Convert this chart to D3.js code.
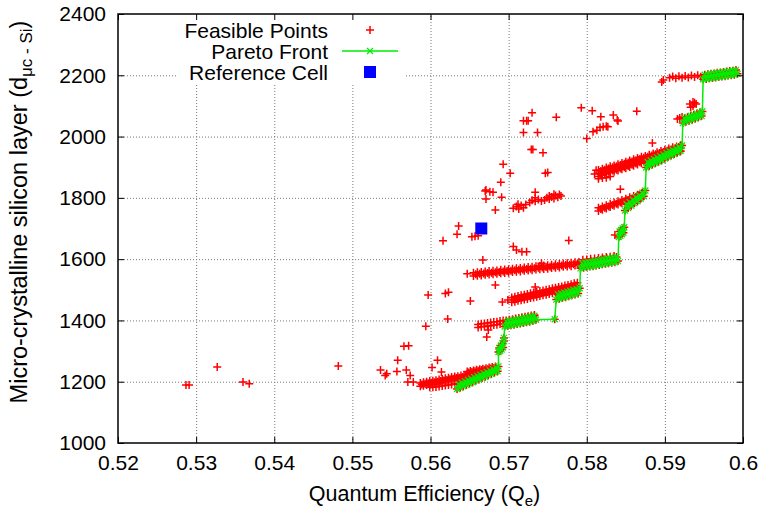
<!DOCTYPE html>
<html><head><meta charset="utf-8">
<script src="https://cdn.jsdelivr.net/npm/d3@7"></script>
<style>
body{margin:0;background:#fff;}
svg{display:block;font-family:"Liberation Sans",Arial,Helvetica,sans-serif;}
</style></head><body>
<svg id="chart" width="763" height="512"></svg>
<script>
// ---------------- DATA ----------------
const xTicks = [0.52,0.53,0.54,0.55,0.56,0.57,0.58,0.59,0.60];
const xTickLabels = ["0.52","0.53","0.54","0.55","0.56","0.57","0.58","0.59","0.6"];
const yTicks = [1000,1200,1400,1600,1800,2000,2200,2400];
const yTickLabels = ["1000","1200","1400","1600","1800","2000","2200","2400"];
const legendLabels = ["Feasible Points","Pareto Front","Reference Cell"];

// Feasible points (Qe, thickness), grouped by region
const feasibleScattered = [
[0.5287,1189],[0.5291,1189],[0.5327,1248],[0.5360,1199],[0.5368,1193],[0.5482,1251],
[0.5536,1238],[0.5544,1226],[0.5542,1220],[0.5557,1233],[0.5558,1270],[0.5569,1238],[0.5574,1220],
[0.5566,1316],[0.5572,1317],[0.5594,1381],[0.5597,1483],[0.5619,1488],[0.5623,1492],[0.5651,1463],
[0.5622,1405],[0.5609,1270],[0.5602,1246],[0.5614,1232],[0.5571,1199],[0.5578,1199]
];
const feasibleBandA = [
[0.5587,1196],[0.5591,1198],[0.5595,1200],[0.5599,1202],[0.5603,1203],[0.5607,1205],[0.5611,1207],[0.5615,1209],
[0.5619,1211],[0.5623,1213],[0.5627,1215],[0.5631,1217],[0.5635,1218],[0.5639,1220],[0.5643,1222],[0.5647,1224],
[0.5651,1226],[0.5655,1228],[0.5659,1230],[0.5663,1232],[0.5667,1233],[0.5671,1235],[0.5675,1237],[0.5679,1239],[0.5683,1241],
[0.5587,1185],[0.5591,1187],[0.5595,1189],[0.5599,1191],[0.5603,1192],[0.5607,1194],[0.5611,1196],[0.5615,1198],
[0.5619,1200],[0.5623,1202],[0.5627,1204],[0.5631,1206],[0.5635,1207],[0.5639,1209],[0.5643,1211],[0.5647,1213],
[0.5651,1215],[0.5655,1217],
[0.5599,1182],[0.5603,1182],[0.5607,1183],[0.5611,1184],[0.5615,1186],[0.5619,1188],[0.5623,1189],[0.5627,1191],[0.5631,1193],
[0.5647,1233],[0.5651,1235],[0.5655,1237],[0.5659,1239],[0.5663,1241],[0.5667,1242],[0.5671,1244],[0.5675,1246],
[0.5679,1248],[0.5683,1250],
[0.5589,1191],[0.5593,1193],[0.5597,1195],[0.5601,1197],[0.5605,1198],[0.5609,1200],[0.5613,1202],[0.5617,1204],
[0.5621,1206],[0.5625,1208],[0.5629,1210],[0.5633,1212],[0.5637,1213],[0.5641,1215],[0.5645,1217],[0.5649,1219],[0.5653,1221],
[0.5649,1230],[0.5653,1232],[0.5657,1234],[0.5661,1236],[0.5665,1238],[0.5669,1239],[0.5673,1241],[0.5677,1243],[0.5681,1245]
];
const feasibleMiddle = [
[0.5672,1346],[0.5674,1369],[0.5683,1516],[0.5692,1460],[0.5699,1467],[0.5734,1509],[0.5742,1587],[0.5667,1597],
[0.5706,1641],[0.5710,1630],[0.5717,1624],[0.5723,1624],[0.5777,1661],[0.5636,1708],[0.5634,1681],[0.5616,1660],
[0.5653,1673],[0.5657,1675],[0.5661,1676],[0.5647,1552],[0.5836,1679]
];
const feasibleBandB = [
[0.5661,1377],[0.5665,1379],[0.5669,1380],[0.5673,1382],[0.5677,1383],[0.5681,1385],[0.5685,1386],[0.5689,1388],[0.5693,1390],
[0.5661,1387],[0.5665,1389],[0.5669,1390],[0.5673,1392],[0.5677,1393],[0.5681,1395],[0.5685,1396],[0.5689,1398],[0.5693,1400],
[0.5697,1400],[0.5701,1402],[0.5705,1404],[0.5709,1406],[0.5713,1408],[0.5717,1410],[0.5721,1412],[0.5725,1414],
[0.5729,1416],[0.5733,1418]
];
const feasibleBandC = [
[0.5704,1475],[0.5708,1477],[0.5712,1480],[0.5716,1482],[0.5720,1484],[0.5724,1486],[0.5728,1489],[0.5732,1491],
[0.5736,1493],[0.5740,1496],[0.5744,1498],[0.5748,1500],[0.5752,1502],[0.5756,1505],[0.5760,1507],[0.5764,1509],
[0.5768,1511],[0.5772,1514],[0.5776,1516],[0.5780,1518],[0.5784,1521],[0.5788,1523],
[0.5704,1459],[0.5708,1461],[0.5712,1464],[0.5716,1466],[0.5720,1468],[0.5724,1470],[0.5728,1473],[0.5732,1475],
[0.5736,1477],[0.5740,1480],[0.5744,1482],[0.5748,1484],[0.5752,1486],[0.5756,1489],[0.5760,1491],[0.5764,1493],
[0.5768,1495],[0.5772,1498],[0.5776,1500],[0.5780,1502],[0.5784,1505],[0.5788,1507],
[0.5706,1468],[0.5710,1470],[0.5714,1473],[0.5718,1475],[0.5722,1477],[0.5726,1479],[0.5730,1482],[0.5734,1484],
[0.5738,1486],[0.5742,1489],[0.5746,1491],[0.5750,1493],[0.5754,1495],[0.5758,1498],[0.5762,1500],[0.5766,1502],
[0.5770,1504],[0.5774,1507],[0.5778,1509],[0.5782,1511],[0.5786,1514]
];
const feasibleBandD = [
[0.5655,1556],[0.5660,1557],[0.5665,1558],[0.5670,1560],[0.5675,1561],[0.5680,1562],[0.5685,1563],[0.5690,1565],
[0.5695,1566],[0.5700,1567],[0.5705,1569],[0.5710,1570],[0.5715,1571],[0.5720,1573],[0.5725,1574],[0.5730,1575],
[0.5735,1577],[0.5740,1578],[0.5745,1579],[0.5750,1580],[0.5755,1582],[0.5760,1583],[0.5765,1584],[0.5770,1586],
[0.5775,1587],[0.5780,1588],[0.5785,1590],[0.5790,1591],
[0.5655,1545],[0.5660,1546],[0.5665,1547],[0.5670,1549],[0.5675,1550],[0.5680,1551],[0.5685,1552],[0.5690,1554],
[0.5695,1555],[0.5700,1556],[0.5705,1558],[0.5710,1559],[0.5715,1560],[0.5720,1562],[0.5725,1563],[0.5730,1564],
[0.5735,1566],[0.5740,1567],[0.5745,1568],[0.5750,1569],[0.5755,1571],[0.5760,1572],[0.5765,1573],[0.5770,1575],
[0.5775,1576],[0.5780,1577],[0.5785,1579],[0.5790,1580],
[0.5658,1551],[0.5663,1552],[0.5668,1553],[0.5673,1555],[0.5678,1556],[0.5683,1557],[0.5688,1558],[0.5693,1560],
[0.5698,1561],[0.5703,1562],[0.5708,1564],[0.5713,1565],[0.5718,1566],[0.5723,1568],[0.5728,1569],[0.5733,1570],
[0.5738,1572],[0.5743,1573],[0.5748,1574],[0.5753,1575],[0.5758,1577],[0.5763,1578],[0.5768,1579],[0.5773,1581],
[0.5778,1582],[0.5783,1583],[0.5788,1585],
[0.5795,1598],[0.5800,1599],[0.5805,1601],[0.5810,1602],[0.5815,1604],[0.5820,1605],[0.5825,1607],[0.5830,1608],[0.5835,1610]
];
const feasibleBandE = [
[0.5706,1766],[0.5710,1772],[0.5713,1764],[0.5716,1775],[0.5719,1768],[0.5722,1778],[0.5712,1779],
[0.5727,1785],[0.5730,1792],[0.5734,1789],[0.5738,1795],[0.5742,1790],[0.5734,1800],[0.5734,1818],
[0.5746,1793],[0.5749,1800],[0.5752,1796],[0.5755,1803],[0.5758,1798],[0.5760,1808],[0.5763,1802],[0.5765,1811],
[0.5767,1806],[0.5752,1806],[0.5758,1812]
];
const feasibleUpper = [
[0.5671,1796],[0.5671,1826],[0.5676,1820],[0.5680,1818],[0.5670,1822],[0.5691,1802],[0.5690,1851],[0.5702,1880],
[0.5693,1910],[0.5683,1760],[0.5747,1880],[0.5750,1883],[0.5744,1947],[0.5729,1958],[0.5731,1958],
[0.5719,2052],[0.5723,2052],[0.5725,2052],[0.5730,2078],[0.5761,2063],[0.5719,2013],[0.5737,2013],
[0.5793,2094],[0.5807,2084],[0.5818,2065],[0.5800,1994],[0.5808,2016],[0.5813,2021],[0.5817,2030],
[0.5821,2032],[0.5825,2034],[0.5827,2032],[0.5834,2070],[0.5839,2054],[0.5840,2051],[0.5864,2083],
[0.5884,1979],[0.5843,1828]
];
const feasibleBandF = [
[0.5815,1768],[0.5820,1772],[0.5825,1776],[0.5830,1781],[0.5835,1785],[0.5840,1789],[0.5845,1793],[0.5850,1797],
[0.5855,1802],[0.5860,1806],[0.5865,1810],[0.5870,1814],
[0.5815,1757],[0.5820,1761],[0.5825,1765],[0.5830,1770],[0.5835,1774],[0.5840,1778],[0.5845,1782],[0.5850,1786],
[0.5855,1791],[0.5860,1795],[0.5865,1799],[0.5870,1803],
[0.5818,1764],[0.5823,1768],[0.5828,1772],[0.5833,1777],[0.5838,1781],[0.5843,1785],[0.5848,1789],[0.5853,1793],
[0.5858,1798],[0.5863,1802],[0.5868,1806]
];
const feasibleBandH = [
[0.5815,1891],[0.5820,1895],[0.5825,1899],[0.5830,1903],[0.5835,1906],[0.5840,1910],[0.5845,1914],[0.5850,1918],
[0.5855,1922],[0.5860,1926],[0.5865,1930],[0.5870,1934],[0.5875,1937],[0.5880,1941],[0.5885,1945],[0.5890,1949],
[0.5895,1953],[0.5900,1957],[0.5905,1961],[0.5910,1965],[0.5915,1968],[0.5920,1972],
[0.5815,1880],[0.5820,1884],[0.5825,1888],[0.5830,1892],[0.5835,1895],[0.5840,1899],[0.5845,1903],[0.5850,1907],
[0.5855,1911],[0.5860,1915],[0.5865,1919],[0.5870,1923],[0.5875,1926],[0.5880,1930],[0.5885,1934],[0.5890,1938],
[0.5895,1942],[0.5900,1946],[0.5905,1950],[0.5910,1954],[0.5915,1957],[0.5920,1961],
[0.5815,1870],[0.5820,1874],[0.5825,1878],[0.5830,1882],[0.5835,1885],[0.5840,1889],[0.5845,1893],[0.5850,1897],
[0.5855,1901],[0.5860,1905],[0.5865,1909],[0.5870,1913],[0.5875,1916],[0.5880,1920],[0.5885,1924],[0.5890,1928],
[0.5895,1932],[0.5900,1936],[0.5905,1940],[0.5910,1944],[0.5915,1947],[0.5920,1951],
[0.5818,1888],[0.5823,1892],[0.5828,1896],[0.5833,1900],[0.5838,1903],[0.5843,1907],[0.5848,1911],[0.5853,1915],
[0.5858,1919],[0.5863,1923],[0.5868,1927],[0.5873,1931],[0.5878,1934],[0.5883,1938],[0.5888,1942],[0.5893,1946],
[0.5898,1950],[0.5903,1954],[0.5908,1958],[0.5913,1962],[0.5918,1965],
[0.5818,1877],[0.5823,1881],[0.5828,1885],[0.5833,1889],[0.5838,1892],[0.5843,1896],[0.5848,1900],[0.5853,1904],
[0.5858,1908],[0.5863,1912],[0.5868,1916],[0.5873,1920],[0.5878,1923],[0.5883,1927],[0.5888,1931],[0.5893,1935],
[0.5898,1939],[0.5903,1943],[0.5908,1947],[0.5913,1951],[0.5918,1954],
[0.5815,1862],[0.5820,1865],[0.5825,1866],[0.5830,1870],[0.5810,1878],[0.5812,1890]
];
const feasibleTop = [
[0.5898,2185],[0.5896,2178],[0.5906,2192],[0.5910,2196],[0.5914,2190],[0.5918,2197],[0.5922,2192],[0.5926,2198],
[0.5930,2193],[0.5934,2199],[0.5938,2194],[0.5942,2200],[0.5946,2195],
[0.5932,2106],[0.5936,2100],[0.5940,2106],[0.5936,2113],[0.5933,2096],[0.5938,2110],
[0.5919,2061],[0.5916,2057],[0.5922,2064]
];
const paretoFront = [
[0.5634,1176],[0.5636,1192],[0.5638,1180],[0.5640,1197],[0.5642,1185],[0.5644,1201],[0.5646,1189],[0.5648,1206],
[0.5650,1194],[0.5652,1210],[0.5654,1198],[0.5656,1215],[0.5658,1203],[0.5660,1219],[0.5662,1207],[0.5664,1223],
[0.5666,1212],[0.5668,1228],[0.5670,1216],[0.5672,1232],[0.5674,1221],[0.5676,1237],[0.5678,1225],[0.5680,1241],
[0.5682,1230],[0.5684,1246],[0.5686,1234],[0.5687,1250],
[0.5687,1297],[0.5688,1310],[0.5689,1300],[0.5690,1318],[0.5691,1305],[0.5692,1325],[0.5693,1312],[0.5694,1333],[0.5694,1343],
[0.5695,1380],[0.5697,1397],[0.5699,1382],[0.5701,1399],[0.5703,1384],[0.5705,1401],[0.5707,1386],[0.5709,1403],
[0.5711,1388],[0.5713,1405],[0.5715,1390],[0.5717,1407],[0.5719,1392],[0.5721,1409],[0.5723,1394],[0.5725,1411],
[0.5727,1396],[0.5729,1413],[0.5731,1398],[0.5733,1415],[0.5735,1402],[0.5759,1404],
[0.5761,1468],[0.5763,1485],[0.5765,1471],[0.5767,1488],[0.5769,1474],[0.5771,1491],[0.5773,1476],[0.5775,1494],
[0.5777,1479],[0.5779,1497],[0.5781,1482],[0.5783,1500],[0.5785,1485],[0.5787,1502],[0.5789,1488],[0.5791,1505],
[0.5792,1570],[0.5794,1587],[0.5796,1572],[0.5798,1589],[0.5800,1574],[0.5802,1591],[0.5804,1576],[0.5806,1592],
[0.5808,1577],[0.5810,1594],[0.5812,1579],[0.5814,1596],[0.5816,1581],[0.5818,1598],[0.5820,1583],[0.5822,1600],
[0.5824,1585],[0.5826,1602],[0.5828,1587],[0.5830,1603],[0.5832,1588],[0.5834,1605],[0.5836,1590],[0.5838,1607],[0.5840,1594],
[0.5841,1672],[0.5842,1690],[0.5843,1676],[0.5844,1695],[0.5845,1681],[0.5846,1700],[0.5847,1686],[0.5848,1704],
[0.5849,1759],[0.5851,1779],[0.5853,1767],[0.5855,1786],[0.5857,1774],[0.5859,1794],[0.5861,1782],[0.5863,1802],
[0.5865,1789],[0.5867,1809],[0.5869,1797],[0.5871,1817],[0.5873,1805],[0.5875,1824],
[0.5876,1899],[0.5878,1917],[0.5880,1904],[0.5882,1922],[0.5884,1909],[0.5886,1927],[0.5888,1914],[0.5890,1932],
[0.5892,1918],[0.5894,1937],[0.5896,1923],[0.5898,1942],[0.5900,1928],[0.5902,1947],[0.5904,1933],[0.5906,1952],
[0.5908,1938],[0.5910,1956],[0.5912,1943],[0.5914,1961],[0.5916,1948],[0.5918,1966],[0.5920,1953],[0.5922,1971],
[0.5923,2044],[0.5925,2060],[0.5927,2048],[0.5929,2064],[0.5931,2052],[0.5933,2068],[0.5935,2055],[0.5937,2071],
[0.5939,2059],[0.5941,2075],[0.5943,2063],[0.5945,2079],[0.5947,2067],[0.5948,2082],
[0.5949,2187],[0.5951,2202],[0.5953,2188],[0.5955,2203],[0.5957,2190],[0.5959,2205],[0.5961,2191],[0.5963,2206],
[0.5965,2193],[0.5967,2208],[0.5969,2194],[0.5971,2209],[0.5973,2196],[0.5975,2211],[0.5977,2197],[0.5979,2212],
[0.5981,2199],[0.5983,2214],[0.5985,2200],[0.5987,2215],[0.5989,2202],[0.5991,2217],[0.5993,2205]
];
const referenceCell = [[0.5665,1700]];

// ---------------- CHART ----------------
const L=118, R=743, T=14, B=443;
const RED="#ff0000", GREEN="#00ee00", BLUE="#0000ff";
const FONT='"Liberation Sans",Arial,Helvetica,sans-serif';
const x = d3.scaleLinear().domain([0.52,0.60]).range([L,R]);
const y = d3.scaleLinear().domain([1000,2400]).range([B,T]);
const svg = d3.select("#chart");

// grid
const gx = svg.append("g").attr("transform",`translate(0,${B})`)
  .call(d3.axisBottom(x).tickValues(xTicks.slice(1,-1)).tickSize(-(B-T)).tickFormat(""));
const gy = svg.append("g").attr("transform",`translate(${L},0)`)
  .call(d3.axisLeft(y).tickValues(yTicks.slice(1,-1)).tickSize(-(R-L)).tickFormat(""));
[gx,gy].forEach(g=>{g.select(".domain").remove();
  g.selectAll("line").attr("stroke","#7a7a7a").attr("stroke-width",1).attr("stroke-dasharray","1,2");});

// feasible points
const allFeasible = [].concat(feasibleScattered,feasibleBandA,feasibleMiddle,feasibleBandB,feasibleBandC,
  feasibleBandD,feasibleBandE,feasibleUpper,feasibleBandF,feasibleBandH,feasibleTop,paretoFront);
const plusPath="M-4,0H4M0,-4V4";
const crossPath="M-3,-3L3,3M-3,3L3,-3";
svg.append("g").selectAll("path").data(allFeasible).join("path")
  .attr("d",plusPath).attr("transform",d=>`translate(${x(d[0])},${y(d[1])})`)
  .attr("stroke",RED).attr("stroke-width",1.5).attr("fill","none");

// pareto front
svg.append("path").datum(paretoFront)
  .attr("d",d3.line().x(d=>x(d[0])).y(d=>y(d[1])))
  .attr("fill","none").attr("stroke",GREEN).attr("stroke-width",1.5);
svg.append("g").selectAll("path").data(paretoFront).join("path")
  .attr("d",crossPath).attr("transform",d=>`translate(${x(d[0])},${y(d[1])})`)
  .attr("stroke",GREEN).attr("stroke-width",1.3).attr("fill","none");

// reference cell
svg.append("g").selectAll("rect").data(referenceCell).join("rect")
  .attr("x",d=>x(d[0])-6).attr("y",d=>y(d[1])-6).attr("width",12).attr("height",12).attr("fill",BLUE);

// legend
const lg = svg.append("g");
lg.append("rect").attr("x",176).attr("y",15).attr("width",228).attr("height",70).attr("fill","#fff");
const rowsY=[30,51,72];
lg.selectAll("text").data(legendLabels).join("text")
  .attr("x",328).attr("y",(d,i)=>rowsY[i]).attr("dy","0.36em").attr("text-anchor","end")
  .attr("font-size",21).attr("font-family",FONT).attr("fill","#000").text(d=>d);
lg.append("path").attr("d",plusPath).attr("transform",`translate(370,${rowsY[0]})`)
  .attr("stroke",RED).attr("stroke-width",1.5);
lg.append("line").attr("x1",342).attr("x2",398).attr("y1",rowsY[1]).attr("y2",rowsY[1])
  .attr("stroke",GREEN).attr("stroke-width",1.5);
lg.append("path").attr("d",crossPath).attr("transform",`translate(370,${rowsY[1]})`)
  .attr("stroke",GREEN).attr("stroke-width",1.3);
lg.append("rect").attr("x",364).attr("y",rowsY[2]-6).attr("width",12).attr("height",12).attr("fill",BLUE);

// axes (inward ticks, mirrored)
function styleAxis(g){g.select(".domain").remove();
  g.selectAll("line").attr("stroke","#000").attr("stroke-width",1);
  g.selectAll("text").attr("fill","#000").attr("font-size",21).attr("font-family",FONT);}
svg.append("g").attr("transform",`translate(0,${B})`)
  .call(d3.axisBottom(x).tickValues(xTicks).tickSize(-6).tickSizeOuter(0).tickPadding(12).tickFormat((d,i)=>xTickLabels[i])).call(styleAxis);
svg.append("g").attr("transform",`translate(0,${T})`)
  .call(d3.axisTop(x).tickValues(xTicks).tickSize(-6).tickSizeOuter(0).tickFormat("")).call(styleAxis);
svg.append("g").attr("transform",`translate(${L},0)`)
  .call(d3.axisLeft(y).tickValues(yTicks).tickSize(-6).tickSizeOuter(0).tickPadding(12).tickFormat((d,i)=>yTickLabels[i])).call(styleAxis);
svg.append("g").attr("transform",`translate(${R},0)`)
  .call(d3.axisRight(y).tickValues(yTicks).tickSize(-6).tickSizeOuter(0).tickFormat("")).call(styleAxis);

// frame
svg.append("rect").attr("x",L).attr("y",T).attr("width",R-L).attr("height",B-T)
  .attr("fill","none").attr("stroke","#000").attr("stroke-width",1.5);

// axis titles
const xt = svg.append("text").attr("x",(L+R)/2-6).attr("y",501).attr("text-anchor","middle")
  .attr("font-size",21.5).attr("font-family",FONT).attr("fill","#000");
xt.append("tspan").text("Quantum Efficiency (Q");
xt.append("tspan").attr("dy",5).attr("font-size",15).text("e");
xt.append("tspan").attr("dy",-5).text(")");
const yt = svg.append("text").attr("transform",`translate(27,212) rotate(-90)`).attr("text-anchor","middle")
  .attr("font-size",23.5).attr("font-family",FONT).attr("fill","#000");
yt.append("tspan").text("Micro-crystalline silicon layer (d");
yt.append("tspan").attr("dy",5).attr("font-size",17).text("μc - Si");
yt.append("tspan").attr("dy",-5).text(")");
</script>
</body></html>
